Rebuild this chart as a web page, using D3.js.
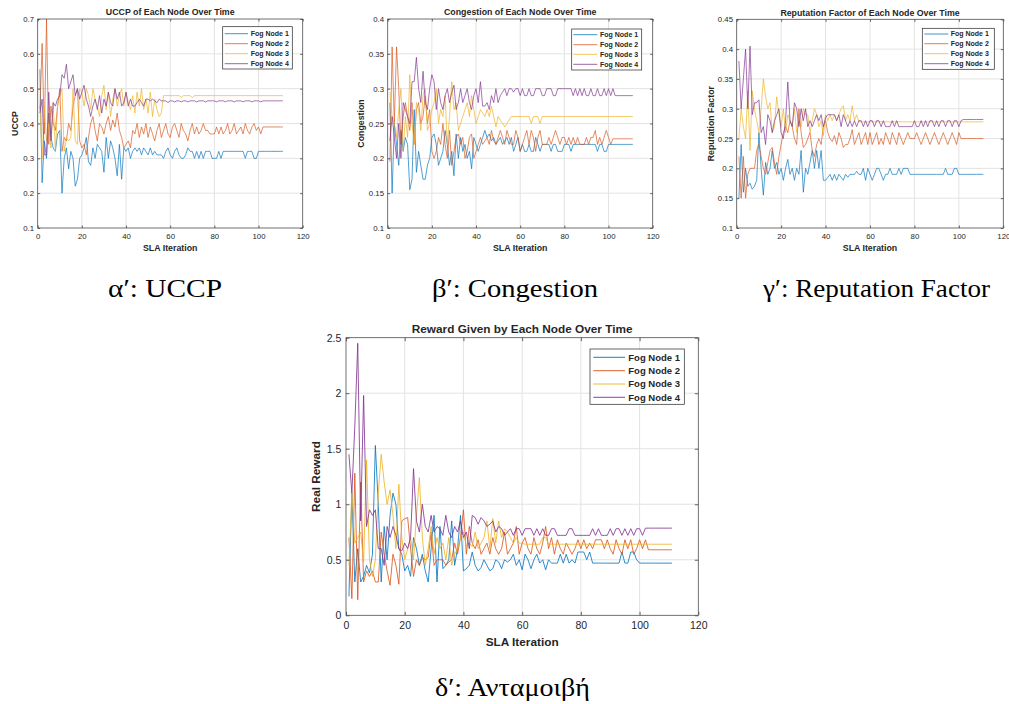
<!DOCTYPE html>
<html>
<head>
<meta charset="utf-8">
<script src="https://cdn.jsdelivr.net/npm/d3@7"></script>
<style>
  body { margin: 0; background: #fff; }
  text { font-family: "Liberation Sans", Arial, sans-serif; fill: #262626; }
  .cap { font-family: "Liberation Serif", "DejaVu Serif", serif; fill: #000; }
</style>
</head>
<body>
<svg id="fig" width="1009" height="704"></svg>
<script>
// ---- data ----
var seriesNames = ["Fog Node 1", "Fog Node 2", "Fog Node 3", "Fog Node 4"];
var xTicks = [0, 20, 40, 60, 80, 100, 120];

// UCCP
var uccpTicks = [0.1, 0.2, 0.3, 0.4, 0.5, 0.6, 0.7];
var uccp1 = [0.555,0.23,0.35,0.30,0.43,0.36,0.33,0.32,0.37,0.38,
  0.20,0.30,0.33,0.27,0.32,0.30,0.22,0.24,0.30,0.31,
  0.33,0.36,0.29,0.28,0.33,0.30,0.34,0.33,0.32,0.26,
  0.36,0.30,0.35,0.33,0.30,0.25,0.34,0.24,0.33,0.32,
  0.33,0.30,0.32,0.33,0.32,0.33,0.31,0.33,0.32,0.31,
  0.33,0.31,0.32,0.31,0.31,0.31,0.30,0.32,0.33,0.31,
  0.30,0.32,0.33,0.31,0.30,0.30,0.31,0.33,0.32,0.32,
  0.30,0.32,0.30,0.32,0.30,0.32,0.32,0.32,0.30,0.30,
  0.30,0.32,0.30,0.32,0.32,0.32,0.32,0.32,0.32,0.32,
  0.32,0.32,0.32,0.30,0.32,0.32,0.32,0.30,0.30,0.32,
  0.32,0.32,0.32,0.32,0.32,0.32,0.32,0.32,0.32,0.32,0.32];
var uccp2 = [0.44,0.63,0.37,0.70,0.34,0.45,0.40,0.38,0.45,0.50,
  0.32,0.36,0.35,0.40,0.38,0.45,0.48,0.50,0.35,0.33,
  0.34,0.31,0.36,0.40,0.42,0.38,0.35,0.40,0.39,0.37,
  0.40,0.42,0.38,0.41,0.39,0.43,0.38,0.36,0.33,0.34,
  0.35,0.33,0.38,0.37,0.40,0.36,0.39,0.37,0.40,0.36,
  0.39,0.37,0.35,0.38,0.40,0.36,0.38,0.40,0.37,0.36,
  0.39,0.40,0.38,0.36,0.40,0.38,0.37,0.35,0.38,0.40,
  0.37,0.39,0.37,0.38,0.40,0.38,0.38,0.37,0.37,0.37,
  0.39,0.37,0.39,0.37,0.38,0.40,0.37,0.38,0.40,0.37,
  0.38,0.39,0.37,0.40,0.38,0.37,0.39,0.40,0.38,0.39,
  0.37,0.39,0.39,0.39,0.39,0.39,0.39,0.39,0.39,0.39,0.39];
var uccp3 = [0.45,0.30,0.45,0.35,0.40,0.33,0.46,0.32,0.45,0.48,
  0.50,0.32,0.36,0.35,0.36,0.50,0.35,0.34,0.50,0.49,
  0.45,0.50,0.48,0.44,0.50,0.47,0.45,0.42,0.48,0.51,
  0.44,0.49,0.42,0.47,0.50,0.45,0.48,0.50,0.45,0.49,
  0.46,0.44,0.48,0.43,0.49,0.45,0.50,0.44,0.47,0.43,
  0.49,0.42,0.47,0.44,0.42,0.43,0.48,0.48,0.48,0.48,
  0.48,0.48,0.48,0.48,0.475,0.48,0.48,0.48,0.48,0.475,
  0.48,0.48,0.48,0.48,0.48,0.48,0.48,0.48,0.48,0.48,
  0.48,0.48,0.48,0.48,0.48,0.48,0.48,0.48,0.48,0.48,
  0.48,0.48,0.48,0.48,0.48,0.48,0.48,0.48,0.48,0.48,
  0.48,0.48,0.48,0.48,0.48,0.48,0.48,0.48,0.48,0.48,0.48];
var uccp4 = [0.43,0.47,0.31,0.31,0.49,0.35,0.46,0.45,0.47,0.48,
  0.54,0.53,0.57,0.50,0.52,0.54,0.48,0.50,0.47,0.49,
  0.51,0.47,0.45,0.42,0.45,0.47,0.44,0.48,0.43,0.47,
  0.45,0.49,0.46,0.45,0.50,0.47,0.49,0.45,0.46,0.49,
  0.45,0.47,0.45,0.45,0.46,0.47,0.46,0.45,0.47,0.47,
  0.465,0.47,0.465,0.46,0.47,0.465,0.465,0.465,0.46,0.465,
  0.465,0.462,0.465,0.465,0.462,0.465,0.465,0.462,0.465,0.465,
  0.465,0.462,0.465,0.465,0.465,0.462,0.465,0.465,0.465,0.465,
  0.462,0.465,0.465,0.465,0.462,0.465,0.465,0.465,0.462,0.465,
  0.465,0.465,0.462,0.465,0.465,0.465,0.462,0.465,0.465,0.465,
  0.462,0.465,0.465,0.465,0.465,0.465,0.465,0.465,0.465,0.465,0.465];

// Congestion
var congTicks = [0.1, 0.15, 0.2, 0.25, 0.3, 0.35, 0.4];
var cong1 = [0.28,0.15,0.25,0.22,0.19,0.24,0.21,0.23,0.22,0.155,
  0.17,0.27,0.18,0.21,0.19,0.17,0.17,0.19,0.20,0.23,
  0.235,0.22,0.19,0.20,0.21,0.24,0.22,0.19,0.21,0.175,
  0.235,0.20,0.23,0.21,0.22,0.20,0.21,0.185,0.23,0.22,
  0.21,0.22,0.23,0.24,0.23,0.235,0.225,0.23,0.22,0.225,
  0.23,0.22,0.225,0.23,0.22,0.23,0.21,0.22,0.23,0.21,
  0.22,0.21,0.21,0.22,0.21,0.21,0.23,0.22,0.21,0.22,
  0.22,0.22,0.22,0.21,0.22,0.22,0.21,0.21,0.21,0.22,
  0.22,0.22,0.21,0.22,0.22,0.22,0.22,0.22,0.22,0.22,
  0.22,0.22,0.22,0.22,0.21,0.22,0.22,0.21,0.21,0.22,
  0.22,0.22,0.22,0.22,0.22,0.22,0.22,0.22,0.22,0.22,0.22];
var cong2 = [0.195,0.36,0.25,0.36,0.30,0.22,0.26,0.28,0.26,0.24,
  0.28,0.22,0.27,0.28,0.25,0.26,0.29,0.25,0.27,0.21,
  0.20,0.21,0.23,0.22,0.25,0.22,0.20,0.24,0.19,0.21,
  0.23,0.235,0.22,0.23,0.20,0.21,0.23,0.235,0.20,0.21,
  0.22,0.23,0.22,0.225,0.23,0.22,0.24,0.225,0.22,0.23,
  0.24,0.23,0.22,0.24,0.23,0.22,0.22,0.24,0.23,0.21,
  0.22,0.23,0.24,0.22,0.24,0.23,0.21,0.23,0.24,0.22,
  0.22,0.22,0.23,0.22,0.23,0.24,0.23,0.22,0.23,0.23,
  0.22,0.23,0.22,0.23,0.22,0.23,0.22,0.22,0.22,0.23,
  0.22,0.23,0.23,0.24,0.22,0.23,0.22,0.23,0.24,0.23,
  0.22,0.228,0.228,0.228,0.228,0.228,0.228,0.228,0.228,0.228,0.228];
var cong3 = [0.295,0.26,0.25,0.23,0.27,0.30,0.21,0.26,0.23,0.32,
  0.25,0.22,0.28,0.27,0.24,0.29,0.30,0.24,0.25,0.27,
  0.28,0.30,0.25,0.27,0.26,0.29,0.22,0.26,0.31,0.27,
  0.28,0.24,0.25,0.26,0.27,0.28,0.26,0.29,0.27,0.25,
  0.26,0.27,0.265,0.26,0.27,0.26,0.275,0.26,0.245,0.26,
  0.255,0.25,0.245,0.25,0.255,0.26,0.26,0.26,0.26,0.26,
  0.26,0.26,0.26,0.26,0.25,0.26,0.26,0.26,0.25,0.26,
  0.26,0.26,0.26,0.26,0.26,0.26,0.26,0.26,0.26,0.26,
  0.26,0.26,0.26,0.26,0.26,0.26,0.26,0.26,0.26,0.26,
  0.26,0.26,0.26,0.26,0.26,0.26,0.26,0.26,0.26,0.26,
  0.26,0.26,0.26,0.26,0.26,0.26,0.26,0.26,0.26,0.26,0.26];
var cong4 = [0.225,0.26,0.23,0.20,0.25,0.20,0.28,0.27,0.26,0.25,
  0.31,0.31,0.345,0.30,0.28,0.325,0.28,0.27,0.30,0.32,
  0.31,0.27,0.30,0.28,0.27,0.29,0.30,0.28,0.295,0.305,
  0.27,0.28,0.30,0.28,0.29,0.30,0.28,0.27,0.29,0.30,
  0.28,0.31,0.275,0.275,0.28,0.27,0.29,0.28,0.30,0.28,
  0.29,0.295,0.30,0.29,0.30,0.30,0.295,0.30,0.30,0.29,
  0.30,0.29,0.29,0.30,0.29,0.29,0.30,0.30,0.30,0.29,
  0.29,0.30,0.30,0.30,0.29,0.29,0.30,0.30,0.30,0.30,
  0.30,0.30,0.30,0.29,0.30,0.29,0.30,0.29,0.30,0.29,
  0.29,0.30,0.29,0.29,0.30,0.29,0.29,0.30,0.29,0.30,
  0.29,0.30,0.29,0.29,0.29,0.29,0.29,0.29,0.29,0.29,0.29];

// Reputation factor
var repTicks = [0.1, 0.15, 0.2, 0.25, 0.3, 0.35, 0.4, 0.45];
var rep1 = [0.15,0.24,0.16,0.20,0.17,0.175,0.165,0.17,0.18,0.26,
  0.20,0.155,0.21,0.19,0.20,0.23,0.20,0.21,0.19,0.20,
  0.18,0.20,0.215,0.19,0.20,0.18,0.20,0.19,0.23,0.16,
  0.20,0.19,0.21,0.23,0.20,0.23,0.20,0.23,0.18,0.18,
  0.185,0.19,0.18,0.19,0.18,0.19,0.185,0.18,0.19,0.185,
  0.19,0.19,0.19,0.195,0.19,0.19,0.20,0.18,0.20,0.19,
  0.18,0.19,0.20,0.20,0.19,0.18,0.19,0.19,0.20,0.19,
  0.19,0.19,0.20,0.19,0.20,0.20,0.20,0.19,0.19,0.19,
  0.19,0.19,0.19,0.19,0.19,0.19,0.19,0.19,0.19,0.19,
  0.19,0.19,0.19,0.20,0.19,0.19,0.19,0.20,0.20,0.19,
  0.19,0.19,0.19,0.19,0.19,0.19,0.19,0.19,0.19,0.19,0.19];
var rep2 = [0.22,0.15,0.22,0.15,0.19,0.20,0.20,0.20,0.23,0.24,
  0.22,0.20,0.19,0.21,0.23,0.235,0.21,0.19,0.22,0.24,
  0.26,0.27,0.26,0.28,0.27,0.25,0.24,0.30,0.26,0.235,
  0.24,0.25,0.26,0.23,0.22,0.24,0.25,0.24,0.27,0.28,
  0.26,0.25,0.245,0.255,0.24,0.26,0.25,0.235,0.24,0.24,
  0.25,0.265,0.24,0.25,0.26,0.24,0.25,0.26,0.24,0.26,
  0.24,0.25,0.26,0.24,0.25,0.24,0.26,0.25,0.24,0.26,
  0.25,0.24,0.26,0.25,0.24,0.25,0.26,0.25,0.25,0.25,
  0.26,0.25,0.24,0.25,0.26,0.25,0.24,0.25,0.26,0.25,
  0.24,0.25,0.26,0.25,0.24,0.25,0.26,0.25,0.24,0.26,
  0.25,0.25,0.25,0.25,0.25,0.25,0.25,0.25,0.25,0.25,0.25];
var rep3 = [0.25,0.30,0.27,0.25,0.33,0.23,0.33,0.30,0.28,0.26,
  0.30,0.35,0.32,0.30,0.31,0.26,0.27,0.32,0.29,0.27,
  0.30,0.26,0.29,0.28,0.27,0.30,0.26,0.28,0.27,0.30,
  0.29,0.29,0.26,0.28,0.30,0.29,0.27,0.28,0.255,0.29,
  0.28,0.29,0.28,0.29,0.28,0.29,0.30,0.305,0.28,0.29,
  0.28,0.305,0.28,0.29,0.278,0.278,0.278,0.278,0.278,0.278,
  0.278,0.278,0.278,0.278,0.278,0.278,0.278,0.278,0.278,0.278,
  0.278,0.278,0.278,0.278,0.278,0.278,0.278,0.278,0.278,0.278,
  0.278,0.278,0.278,0.278,0.278,0.278,0.278,0.278,0.278,0.278,
  0.278,0.278,0.278,0.278,0.278,0.278,0.278,0.278,0.278,0.278,
  0.278,0.278,0.278,0.278,0.278,0.278,0.278,0.278,0.278,0.278,0.278];
var rep4 = [0.38,0.30,0.35,0.40,0.30,0.405,0.29,0.31,0.31,0.315,
  0.26,0.27,0.24,0.29,0.28,0.26,0.28,0.29,0.30,0.26,
  0.25,0.28,0.345,0.28,0.27,0.31,0.30,0.27,0.30,0.28,
  0.30,0.27,0.28,0.27,0.28,0.29,0.28,0.29,0.27,0.285,
  0.29,0.29,0.29,0.29,0.28,0.29,0.27,0.29,0.28,0.27,
  0.28,0.27,0.28,0.27,0.28,0.28,0.27,0.28,0.27,0.28,
  0.28,0.27,0.28,0.28,0.27,0.28,0.27,0.27,0.27,0.28,
  0.27,0.28,0.27,0.27,0.27,0.27,0.27,0.27,0.27,0.28,
  0.27,0.27,0.28,0.27,0.28,0.27,0.28,0.28,0.27,0.28,
  0.27,0.28,0.28,0.27,0.28,0.28,0.27,0.28,0.28,0.27,
  0.28,0.282,0.282,0.282,0.282,0.282,0.282,0.282,0.282,0.282,0.282];

// Real reward
var rewardTicks = [0, 0.5, 1, 1.5, 2, 2.5];
var reward1 = [0.17,1.10,0.30,0.60,0.30,0.35,0.45,0.38,0.55,1.53,
  1.00,0.30,0.80,0.50,0.90,1.10,1.00,0.60,0.55,0.40,
  0.45,0.35,0.70,0.60,0.45,0.55,0.40,0.30,0.60,0.90,
  0.30,0.80,0.42,0.45,0.50,0.85,0.45,0.60,0.90,0.40,
  0.42,0.45,0.57,0.45,0.40,0.43,0.50,0.45,0.40,0.42,
  0.50,0.48,0.42,0.50,0.48,0.50,0.55,0.45,0.50,0.41,
  0.55,0.50,0.42,0.50,0.55,0.47,0.50,0.41,0.50,0.47,
  0.47,0.47,0.55,0.47,0.55,0.47,0.50,0.47,0.57,0.57,
  0.57,0.50,0.57,0.47,0.47,0.47,0.47,0.47,0.47,0.47,
  0.47,0.47,0.47,0.57,0.47,0.47,0.57,0.57,0.50,0.47,
  0.47,0.47,0.47,0.47,0.47,0.47,0.47,0.47,0.47,0.47,0.47];
var reward2 = [0.70,0.15,1.28,0.14,1.20,0.30,0.40,0.35,0.40,0.30,
  0.30,0.75,0.55,0.40,0.27,0.55,0.45,0.28,0.85,0.87,
  0.88,0.60,0.35,0.50,0.45,0.52,0.50,0.52,0.75,0.45,
  0.50,0.50,0.50,0.45,0.48,0.50,0.65,0.55,0.70,0.95,
  0.55,0.80,0.65,0.60,0.68,0.55,0.60,0.65,0.55,0.70,
  0.60,0.55,0.60,0.75,0.55,0.60,0.65,0.80,0.55,0.65,
  0.70,0.60,0.55,0.70,0.60,0.55,0.65,0.80,0.60,0.70,
  0.55,0.68,0.60,0.55,0.65,0.60,0.55,0.60,0.68,0.60,
  0.68,0.60,0.65,0.60,0.68,0.68,0.68,0.60,0.68,0.60,
  0.55,0.68,0.60,0.55,0.68,0.60,0.68,0.55,0.60,0.68,
  0.60,0.68,0.59,0.59,0.59,0.59,0.59,0.59,0.59,0.59,0.59];
var reward3 = [0.45,1.10,0.65,0.70,0.75,0.48,1.40,0.50,0.35,0.50,
  1.10,1.45,1.20,1.00,1.13,0.90,0.60,1.18,0.70,0.50,
  0.60,0.70,0.50,0.90,1.24,0.70,0.45,0.60,0.80,0.55,
  0.70,0.60,0.65,0.50,0.70,0.45,0.55,0.60,0.70,0.75,
  0.62,0.65,0.62,0.75,0.60,0.65,0.70,0.85,0.60,0.87,
  0.65,0.85,0.70,0.78,0.75,0.70,0.65,0.70,0.65,0.65,
  0.64,0.64,0.64,0.64,0.64,0.64,0.70,0.70,0.64,0.64,
  0.64,0.64,0.64,0.64,0.64,0.64,0.64,0.64,0.64,0.64,
  0.64,0.64,0.64,0.64,0.64,0.64,0.64,0.64,0.64,0.64,
  0.64,0.64,0.64,0.64,0.64,0.64,0.64,0.64,0.64,0.64,
  0.64,0.64,0.64,0.64,0.64,0.64,0.64,0.64,0.64,0.64,0.64];
var reward4 = [1.45,1.10,1.70,2.45,0.85,1.98,0.80,0.95,0.90,0.95,
  0.60,0.60,0.45,0.80,0.70,0.80,0.72,0.60,0.58,0.65,
  0.60,0.70,1.32,0.85,0.75,1.00,0.80,0.75,0.90,0.75,
  0.80,0.78,0.72,0.90,0.75,0.70,0.80,0.75,0.85,0.70,
  0.75,0.60,0.90,0.88,0.82,0.88,0.85,0.80,0.82,0.85,
  0.75,0.80,0.78,0.72,0.75,0.78,0.72,0.78,0.78,0.72,
  0.78,0.78,0.78,0.72,0.78,0.72,0.78,0.72,0.72,0.78,
  0.78,0.72,0.72,0.72,0.72,0.78,0.78,0.72,0.72,0.72,
  0.72,0.72,0.72,0.78,0.72,0.78,0.72,0.72,0.72,0.78,
  0.72,0.78,0.78,0.72,0.78,0.72,0.78,0.72,0.78,0.78,
  0.72,0.785,0.785,0.785,0.785,0.785,0.785,0.785,0.785,0.785,0.785];

var colors = ["#0072BD", "#D95319", "#EDB120", "#7E2F8E"];

// ---- layout of the four panels ----
var panels = [
  { series: [uccp1, uccp2, uccp3, uccp4], yTicks: uccpTicks, title: "UCCP of Each Node Over Time",
    ylabel: "UCCP", caption: "α′: UCCP",
    left: 37.7, right: 302.7, top: 19, bottom: 228, fs: 7.8, titleFs: 8.8, labelFs: 8.8, ylabelX: 15,
    legend: { x0: 222.7, x1: 292.3, y0: 26.7, y1: 69, rows: [33.7, 43.7, 53.7, 63.7], lx0: 224.7, lx1: 248, tx: 250.7, fs: 7 },
    capX: 165, capY: 297, capW: 114 },
  { series: [cong1, cong2, cong3, cong4], yTicks: congTicks, title: "Congestion of Each Node Over Time",
    ylabel: "Congestion", caption: "β′: Congestion",
    left: 387.7, right: 652.7, top: 19, bottom: 228, fs: 7.8, titleFs: 8.8, labelFs: 8.8, ylabelX: 361,
    legend: { x0: 571.7, x1: 641.7, y0: 29, y1: 70, rows: [34.7, 44.7, 54.3, 64.3], lx0: 573.3, lx1: 597.3, tx: 600, fs: 7 },
    capX: 515, capY: 297, capW: 166 },
  { series: [rep1, rep2, rep3, rep4], yTicks: repTicks, title: "Reputation Factor of Each Node Over Time",
    ylabel: "Reputation Factor", caption: "γ′: Reputation Factor",
    left: 736.7, right: 1003.3, top: 19.3, bottom: 228, fs: 7.8, titleFs: 8.8, labelFs: 8.8, ylabelX: 711,
    legend: { x0: 922.3, x1: 994.3, y0: 28.3, y1: 69.3, rows: [34, 43.7, 53.7, 63.7], lx0: 924.3, lx1: 948.3, tx: 950.7, fs: 7 },
    capX: 876.5, capY: 297, capW: 227 },
  { series: [reward1, reward2, reward3, reward4], yTicks: rewardTicks, title: "Reward Given by Each Node Over Time",
    ylabel: "Real Reward", caption: "δ′: Ανταμοιβή",
    left: 346, right: 698.3, top: 337.7, bottom: 615.3, fs: 10.5, titleFs: 11.8, labelFs: 11.8, ylabelX: 316,
    legend: { x0: 590, x1: 684.3, y0: 349, y1: 404.3, rows: [357.3, 370.7, 384, 397.3], lx0: 593.3, lx1: 625, tx: 628.3, fs: 9.5 },
    capX: 512.5, capY: 696, capW: 155 }
];

var svg = d3.select("#fig");
var iterations = d3.range(1, 112);

panels.forEach(drawPanel);

function drawPanel(p) {
  var x = d3.scaleLinear().domain([0, 120]).range([p.left, p.right]);
  var y = d3.scaleLinear().domain([p.yTicks[0], p.yTicks[p.yTicks.length - 1]]).range([p.bottom, p.top]);
  var g = svg.append("g");
  var big = p.fs > 9;

  // grid
  g.selectAll(".gx").data(xTicks.slice(1, -1)).enter().append("line")
    .attr("x1", d => x(d)).attr("x2", d => x(d)).attr("y1", p.top).attr("y2", p.bottom)
    .attr("stroke", "#e3e3e3").attr("stroke-width", 1);
  g.selectAll(".gy").data(p.yTicks.slice(1, -1)).enter().append("line")
    .attr("y1", d => y(d)).attr("y2", d => y(d)).attr("x1", p.left).attr("x2", p.right)
    .attr("stroke", "#e3e3e3").attr("stroke-width", 1);

  // lines
  var line = d3.line().x((d, i) => x(iterations[i])).y(d => y(d));
  p.series.forEach(function(s, k) {
    g.append("path").datum(s)
      .attr("d", line)
      .attr("fill", "none")
      .attr("stroke", colors[k])
      .attr("stroke-width", big ? 0.9 : 0.75)
      .attr("stroke-opacity", 0.9)
      .attr("stroke-linejoin", "round");
  });

  var fmt = d => String(+d.toFixed(2));
  var tickLen = big ? 3.5 : 2.5;

  // axes: bottom + left with labels, top + right ticks only
  var xb = g.append("g").attr("transform", `translate(0,${p.bottom})`)
    .call(d3.axisBottom(x).tickValues(xTicks).tickFormat(fmt).tickSizeInner(-tickLen).tickSizeOuter(0).tickPadding(p.fs * 0.45 + 2));
  var yl = g.append("g").attr("transform", `translate(${p.left},0)`)
    .call(d3.axisLeft(y).tickValues(p.yTicks).tickFormat(fmt).tickSizeInner(-tickLen).tickSizeOuter(0).tickPadding(p.fs * 0.35 + 1));
  var xt = g.append("g").attr("transform", `translate(0,${p.top})`)
    .call(d3.axisTop(x).tickValues(xTicks).tickFormat("").tickSizeInner(-tickLen).tickSizeOuter(0));
  var yr = g.append("g").attr("transform", `translate(${p.right},0)`)
    .call(d3.axisRight(y).tickValues(p.yTicks).tickFormat("").tickSizeInner(-tickLen).tickSizeOuter(0));
  [xb, yl, xt, yr].forEach(function(a) {
    a.select(".domain").remove();
    a.selectAll("line").attr("stroke", "#262626").attr("stroke-width", 0.7);
    a.selectAll("text").style("font-family", '"Liberation Sans", Arial, sans-serif')
      .style("font-size", p.fs + "px").attr("fill", "#404040");
  });

  // box
  g.append("rect").attr("x", p.left).attr("y", p.top)
    .attr("width", p.right - p.left).attr("height", p.bottom - p.top)
    .attr("fill", "none").attr("stroke", "#4d4d4d").attr("stroke-width", 0.8);

  // title and axis labels
  g.append("text").attr("x", (p.left + p.right) / 2).attr("y", p.top - p.titleFs * 0.4)
    .attr("text-anchor", "middle").style("font-size", p.titleFs + "px").style("font-weight", "bold")
    .attr("fill", "#000").text(p.title);
  g.append("text").attr("x", (p.left + p.right) / 2).attr("y", p.bottom + p.fs * 2.1 + p.labelFs * 0.55 + 2)
    .attr("text-anchor", "middle").style("font-size", p.labelFs + "px").style("font-weight", "bold")
    .text("SLA Iteration");
  g.append("text").attr("transform", `translate(${p.ylabelX},${(p.top + p.bottom) / 2}) rotate(-90)`)
    .attr("dy", "0.35em").attr("text-anchor", "middle").style("font-size", p.labelFs + "px").style("font-weight", "bold")
    .text(p.ylabel);

  // legend
  var L = p.legend;
  var lg = g.append("g");
  lg.append("rect").attr("x", L.x0).attr("y", L.y0).attr("width", L.x1 - L.x0).attr("height", L.y1 - L.y0)
    .attr("fill", "#fff").attr("stroke", "#262626").attr("stroke-width", 0.7);
  seriesNames.forEach(function(name, k) {
    lg.append("line").attr("x1", L.lx0).attr("x2", L.lx1).attr("y1", L.rows[k]).attr("y2", L.rows[k])
      .attr("stroke", colors[k]).attr("stroke-width", big ? 0.9 : 0.75);
    lg.append("text").attr("x", L.tx).attr("y", L.rows[k]).attr("dy", "0.35em")
      .style("font-size", L.fs + "px").style("font-weight", "bold").attr("fill", "#000").text(name);
  });

  // sub-figure caption
  svg.append("text").attr("class", "cap").attr("x", p.capX).attr("y", p.capY)
    .attr("text-anchor", "middle").style("font-size", "25px")
    .attr("textLength", p.capW).attr("lengthAdjust", "spacingAndGlyphs")
    .text(p.caption);
}
</script>
</body>
</html>
